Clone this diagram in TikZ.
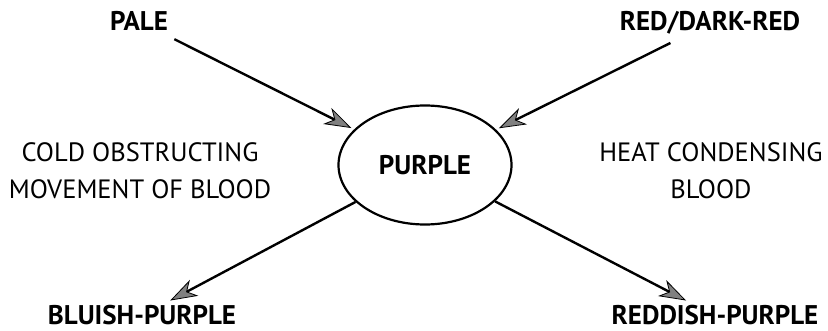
\documentclass[tikz,border=0pt]{standalone}
\usepackage{fontspec}
\setmainfont{PT Sans}
\newfontfamily\namefont{PT Sans Bold}
\usetikzlibrary{arrows.meta,positioning,shapes.geometric}
\tikzset{every picture/.prefix style={execute at begin picture={\rmfamily}}}

\begin{document}
\begin{tikzpicture}[x=1pt,y=-1pt,font=\fontsize{22}{26}\selectfont,
  colour/.style={font=\namefont\fontsize{27}{30}\selectfont,inner sep=8pt},
  cause/.style={align=center,font=\fontsize{26.5}{37}\selectfont},
  centre/.style={draw,ellipse,line width=2.2pt,minimum width=173pt,minimum height=119pt,inner sep=0pt,font=\namefont\fontsize{27}{30}\selectfont},
  link/.style={line width=2.4pt,-{Stealth[length=27pt,width=18pt,inset=8pt,fill=black!50,line width=0.8pt]}}]
\useasboundingbox (0,0) rectangle (828,331);
% the four colours round the centre
\node[centre] (purple) at (425,165) {PURPLE};
\node[colour,anchor=base] (pale) at (139,31) {PALE};
\node[colour,anchor=base] (reddark) at (710,31) {RED/DARK-RED};
\node[colour,anchor=base,inner sep=5pt] (bluish) at (142,325) {BLUISH-PURPLE};
\node[colour,anchor=base,inner sep=5pt] (reddish) at (715,325) {REDDISH-PURPLE};
% the two causes
\node[cause] (cold) at (140,171) {COLD OBSTRUCTING\\MOVEMENT OF BLOOD};
\node[cause] (heat) at (711,171) {HEAT CONDENSING\\BLOOD};
% arrows
\draw[link,shorten >=3pt] (pale) -- (purple);
\draw[link,shorten >=3pt] (reddark) -- (purple);
\draw[link] (purple) -- (bluish);
\draw[link] (purple) -- (reddish);
\end{tikzpicture}
\end{document}
